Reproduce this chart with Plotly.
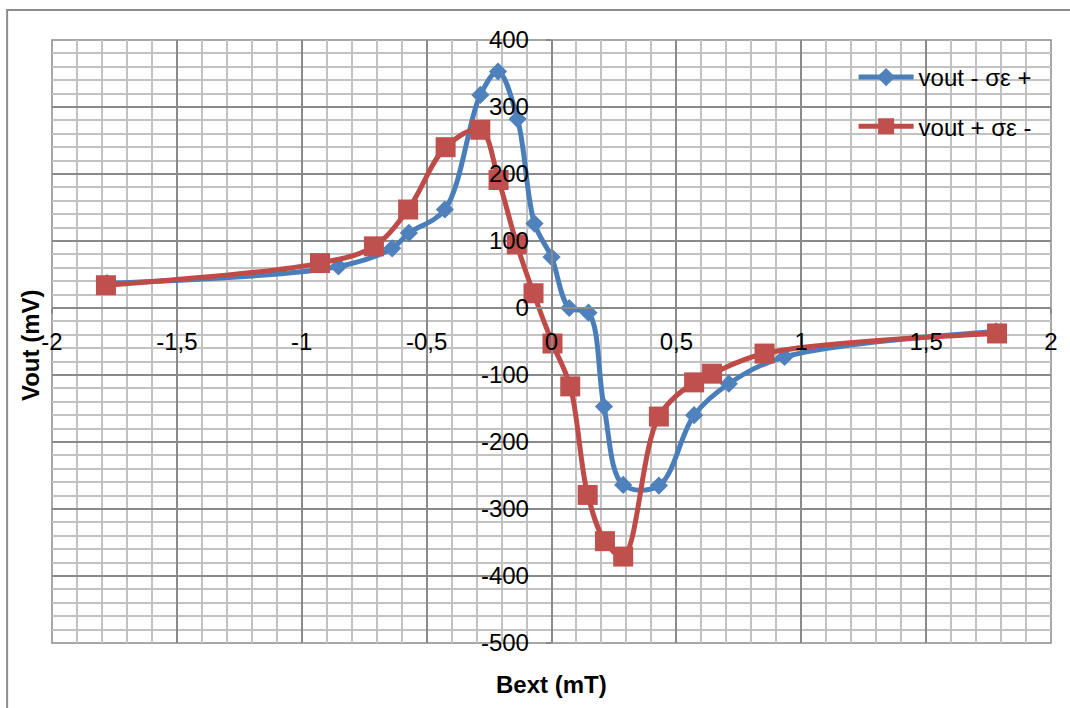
import plotly.graph_objects as go

# Measured output voltage vs external field for the two polarisation configurations
bext_blue = [-1.78, -0.853, -0.638, -0.571, -0.427, -0.285, -0.214, -0.136, -0.068, 0.0,
             0.071, 0.148, 0.21, 0.287, 0.43, 0.571, 0.71, 0.933, 1.78]
vout_blue = [37, 62, 89, 112, 147, 318, 353, 282, 126, 76,
             0, -7, -147, -264, -265, -160, -113, -73, -35]

bext_red = [-1.784, -0.927, -0.711, -0.574, -0.424, -0.285, -0.212, -0.139, -0.072, 0.004,
            0.075, 0.145, 0.214, 0.287, 0.43, 0.571, 0.643, 0.853, 1.784]
vout_red = [34, 67, 92, 147, 240, 266, 191, 95, 22, -53,
            -117, -279, -348, -371, -162, -111, -98, -68, -38]

series_names = ["vout - σε +", "vout + σε -"]

x_tickvals = [-2, -1.5, -1, -0.5, 0, 0.5, 1, 1.5, 2]
x_ticktext = ["-2", "-1,5", "-1", "-0,5", "0", "0,5", "1", "1,5", "2"]
y_tickvals = [-500, -400, -300, -200, -100, 0, 100, 200, 300, 400]
y_ticktext = ["-500", "-400", "-300", "-200", "-100", "0", "100", "200", "300", "400"]

FONT = "Liberation Sans"
FS = 24
MAJOR = "#8a8a8a"
MINOR = "#c2c2c2"
BLUE = "#4a7ebb"
RED = "#be4b48"

fig = go.Figure()
fig.add_trace(go.Scatter(
    x=bext_blue, y=vout_blue, name=series_names[0], legendgroup="g1",
    mode="lines+markers",
    line=dict(color=BLUE, width=5, shape="spline", smoothing=1),
    marker=dict(symbol="diamond", size=14, color="#4f81bd", line=dict(width=0)),
))
fig.add_trace(go.Scatter(
    x=bext_red, y=vout_red, name=series_names[1], legendgroup="g2",
    mode="lines+markers",
    line=dict(color=RED, width=5, shape="spline", smoothing=1),
    marker=dict(symbol="square", size=20, color="#c0504d", line=dict(width=0)),
))

L, R, T, B = 52, 16, 40, 65
W, H = 1070, 708
pw, ph = W - L - R, H - T - B


def px_x(px):
    return (px - L) / pw


def px_y(py):
    return (H - B - py) / ph


fig.update_layout(
    width=W, height=H,
    margin=dict(l=L, r=R, t=T, b=B),
    paper_bgcolor="white", plot_bgcolor="white",
    font=dict(family=FONT, size=FS, color="black"),
    legend=dict(
        x=px_x(856), y=px_y(55), xanchor="left", yanchor="top",
        bgcolor="rgba(0,0,0,0)", borderwidth=0,
        font=dict(family=FONT, size=FS, color="black"),
        tracegroupgap=15, traceorder="grouped", itemwidth=55,
    ),
    xaxis=dict(
        range=[-2, 2], anchor="free", position=0.5556,
        tickvals=x_tickvals, ticktext=x_ticktext,
        ticks="outside", ticklen=5, tickcolor=MAJOR, tickwidth=1.5,
        ticklabelstandoff=7,
        showline=True, linecolor=MAJOR, linewidth=1.5,
        showgrid=True, gridcolor=MAJOR, gridwidth=1.5,
        zeroline=False,
        minor=dict(dtick=0.1, showgrid=True, gridcolor=MINOR, gridwidth=1.5, ticks=""),
        tickfont=dict(family=FONT, size=FS),
    ),
    yaxis=dict(
        range=[-500, 400], anchor="free", position=0.5,
        tickvals=y_tickvals, ticktext=y_ticktext,
        ticks="outside", ticklen=5, tickcolor=MAJOR, tickwidth=1.5,
        ticklabelstandoff=12,
        showline=True, linecolor=MAJOR, linewidth=1.5,
        showgrid=True, gridcolor=MAJOR, gridwidth=1.5,
        zeroline=False,
        minor=dict(dtick=20, showgrid=True, gridcolor=MINOR, gridwidth=1.5, ticks=""),
        tickfont=dict(family=FONT, size=FS),
    ),
    shapes=[
        # plot area frame
        dict(type="rect", xref="paper", yref="paper", x0=0, x1=1, y0=0, y1=1,
             line=dict(color=MAJOR, width=1.5), layer="below"),
        # chart area frame
        dict(type="rect", xref="paper", yref="paper",
             x0=px_x(7), x1=px_x(1090), y0=px_y(730), y1=px_y(10),
             line=dict(color="#8c8c8c", width=2), layer="below"),
    ],
    annotations=[
        dict(text="<b>Vout (mV)</b>", xref="paper", yref="paper",
             x=px_x(30), y=px_y(345), xanchor="center", yanchor="middle",
             textangle=-90, showarrow=False,
             font=dict(family=FONT, size=FS, color="black")),
        dict(text="<b>Bext (mT)</b>", xref="paper", yref="paper",
             x=px_x(553), y=px_y(684), xanchor="center", yanchor="middle",
             showarrow=False,
             font=dict(family=FONT, size=FS, color="black")),
    ],
)

fig.write_html("out.html")
